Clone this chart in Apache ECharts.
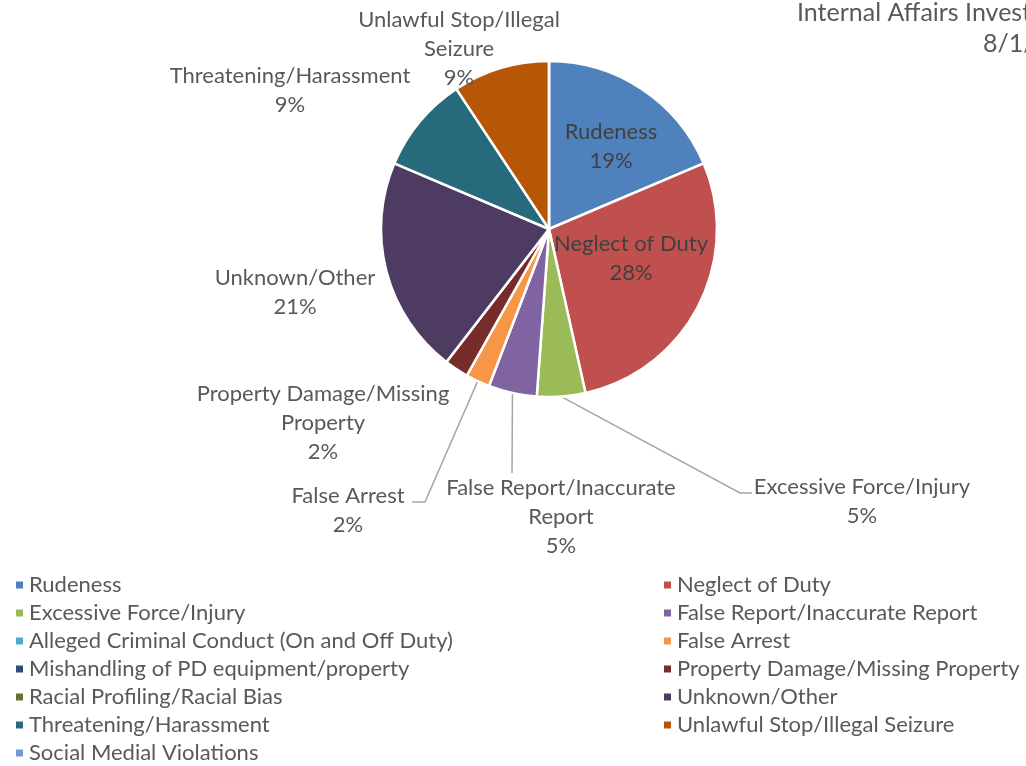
<!DOCTYPE html>
<html>
<head>
<meta charset="utf-8">
<script src="https://cdn.jsdelivr.net/npm/echarts@6/dist/echarts.min.js"></script>
<style>
html,body{margin:0;padding:0;background:#fff;}
#chart{width:1026px;height:766px;}
</style>
</head>
<body>
<div id="chart"></div>
<script>
// ---- data ----
const categories = [
  'Rudeness',
  'Neglect of Duty',
  'Excessive Force/Injury',
  'False Report/Inaccurate Report',
  'Alleged Criminal Conduct (On and Off Duty)',
  'False Arrest',
  'Mishandling of PD equipment/property',
  'Property Damage/Missing Property',
  'Racial Profiling/Racial Bias',
  'Unknown/Other',
  'Threatening/Harassment',
  'Unlawful Stop/Illegal Seizure',
  'Social Medial Violations'
];
const counts = [8, 12, 2, 2, 0, 1, 0, 1, 0, 9, 4, 4, 0];
const colors = ['#4F81BD','#C0504D','#9BBB59','#8064A2','#4BACC6','#F79646','#2C4D75','#772C2A','#5F7530','#4D3B62','#276A7C','#B65708','#729ACA'];
// wrapped label names (as in the data labels)
const labelNames = [
  'Rudeness',
  'Neglect of Duty',
  'Excessive Force/Injury',
  'False Report/Inaccurate\nReport',
  '',
  'False Arrest',
  '',
  'Property Damage/Missing\nProperty',
  '',
  'Unknown/Other',
  'Threatening/Harassment',
  'Unlawful Stop/Illegal\nSeizure',
  ''
];
const titleLine1 = 'Internal Affairs Investigations by Complaint Type';
const titleLine2 = '8/1/2020 - 7/31/2021';
const leftLegend = [0, 2, 4, 6, 8, 10, 12].map(i => categories[i]);
const rightLegend = [1, 3, 5, 7, 9, 11].map(i => categories[i]);

// ---- layout (label placement, not data) ----
const FONT = 'Lato';
const FS = 22;
const CX = 549, CY = 229, R = 168;
const labelPos = {
  0: {x: 611, y: 146},
  1: {x: 631, y: 258},
  2: {x: 862, y: 501, line: [[740, 493], [752, 493]]},
  3: {x: 561, y: 517, line: [[512, 473]]},
  5: {x: 348, y: 510, line: [[425, 502], [412, 502]]},
  7: {x: 323, y: 423},
  9: {x: 295, y: 292},
  10: {x: 290, y: 90},
  11: {x: 459, y: 49}
};
const withLine = {2: true, 3: true, 5: true};

const total = counts.reduce((a, b) => a + b, 0);
const seriesData = categories.map((name, i) => {
  const inside = (i === 0 || i === 1);
  return {
    name: name,
    value: counts[i],
    itemStyle: {color: colors[i]},
    label: {
      show: counts[i] > 0,
      color: inside ? '#404040' : '#595959'
    },
    labelLine: {show: counts[i] > 0 && !!withLine[i]}
  };
});

const legendCommon = {
  orient: 'vertical', top: 571, height: 230, padding: 0, itemGap: 0,
  itemWidth: 9, itemHeight: 9, icon: 'rect', selectedMode: false,
  textStyle: {fontFamily: FONT, fontSize: FS, color: '#595959', lineHeight: 28}
};

const chart = echarts.init(document.getElementById('chart'), null, {renderer: 'canvas'});
chart.setOption({
  backgroundColor: '#ffffff',
  animation: false,
  textStyle: {fontFamily: FONT},
  title: [
    {text: titleLine1, left: 797, top: 0, padding: 0, textStyle: {fontFamily: FONT, fontSize: 25, fontWeight: 'normal', color: '#595959'}},
    {text: titleLine2, left: 983, top: 31, padding: 0, textStyle: {fontFamily: FONT, fontSize: 25, fontWeight: 'normal', color: '#595959'}}
  ],
  legend: [
    Object.assign({data: leftLegend, left: 14}, legendCommon),
    Object.assign({data: rightLegend, left: 662}, legendCommon)
  ],
  series: [{
    type: 'pie',
    center: [CX, CY],
    radius: R,
    startAngle: 90,
    clockwise: true,
    avoidLabelOverlap: false,
    itemStyle: {borderColor: '#ffffff', borderWidth: 2.5},
    label: {
      position: 'outside',
      fontFamily: FONT,
      fontSize: FS,
      lineHeight: 29,
      align: 'center',
      formatter: p => labelNames[p.dataIndex] + '\n' + Math.round(p.value / total * 100) + '%'
    },
    labelLine: {
      show: true, length: 10, length2: 10,
      lineStyle: {color: '#A6A6A6', width: 1.5}
    },
    labelLayout: function (params) {
      const lp = labelPos[params.dataIndex];
      if (!lp) return {};
      const out = {x: lp.x, y: lp.y, align: 'center', verticalAlign: 'middle'};
      if (lp.line && params.labelLinePoints) {
        const start = params.labelLinePoints[0];
        out.labelLinePoints = [start].concat(lp.line);
      }
      return out;
    },
    data: seriesData
  }]
});
</script>
</body>
</html>
